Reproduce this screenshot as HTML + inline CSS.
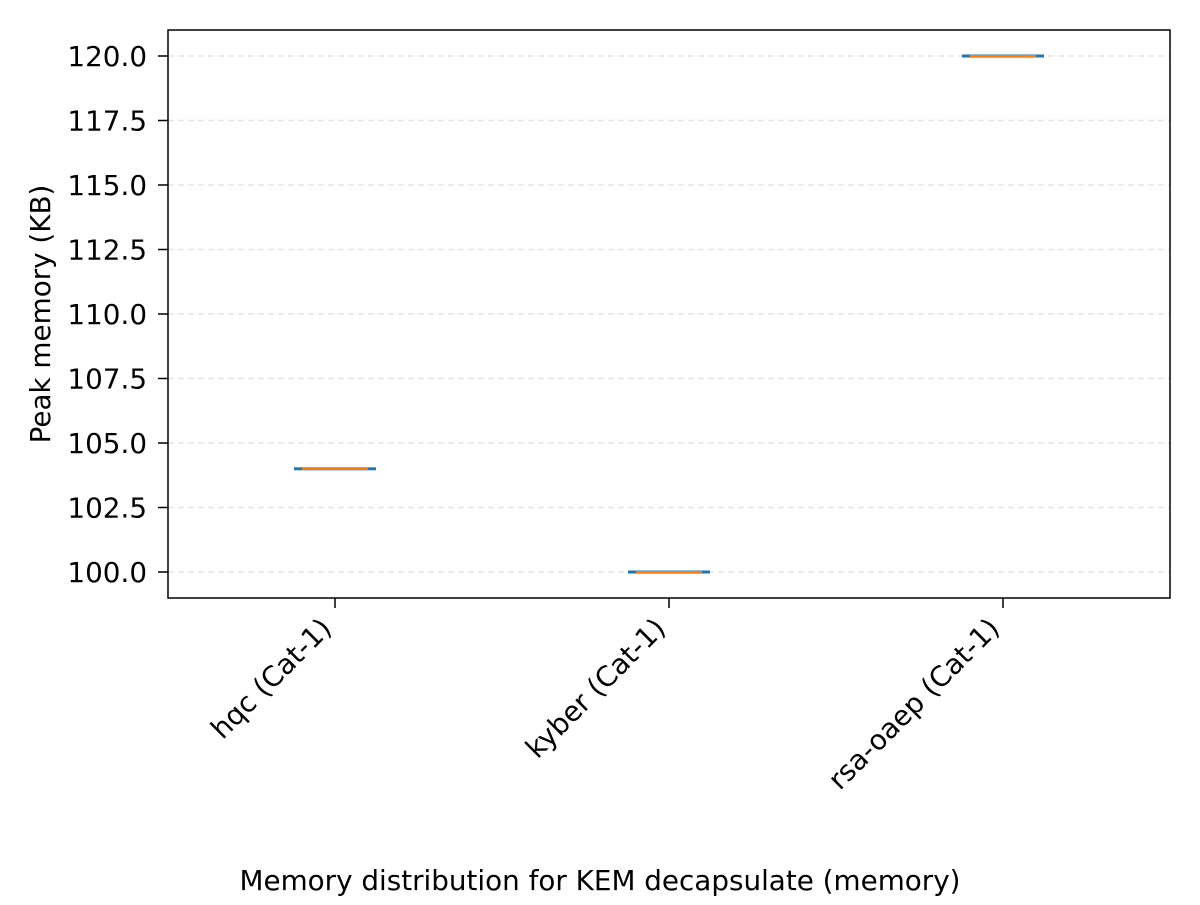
<!DOCTYPE html>
<html><head><meta charset="utf-8"><style>
body{margin:0;background:#fff}
svg text{font-family:"DejaVu Sans","Liberation Sans",sans-serif;fill:#000}
</style></head><body>
<svg id="chart" width="1200" height="900">
<rect width="1200" height="900" fill="#fff"/>
<g id="grid"></g><g id="marks"></g><g id="axes"></g>
<rect x="168" y="30" width="1002" height="568" fill="none" stroke="#000" stroke-width="1.5"/>
<text x="50" y="314" font-size="27.8" text-anchor="middle" transform="rotate(-90 50 314)">Peak memory (KB)</text>
<text x="600" y="890" font-size="27.8" text-anchor="middle">Memory distribution for KEM decapsulate (memory)</text>
</svg>
<script>
const categories=["hqc (Cat-1)","kyber (Cat-1)","rsa-oaep (Cat-1)"];
const medians=[104,100,120];
const q1=[104,100,120];
const q3=[104,100,120];
const yTicks=[100,102.5,105,107.5,110,112.5,115,117.5,120];
const NS="http://www.w3.org/2000/svg";
const L=168,R=1170,T=30,B=598;
function y(v){return 572-(v-100)*25.8;}
function x(i){return L+(i+0.5)*(R-L)/categories.length;}
function mk(t,a,p){const e=document.createElementNS(NS,t);for(const k in a)e.setAttribute(k,a[k]);p.appendChild(e);return e;}
const grid=document.getElementById('grid'),axes=document.getElementById('axes'),marks=document.getElementById('marks');
yTicks.forEach(v=>{
 const g=mk('line',{x1:L,x2:R,y1:y(v),y2:y(v),stroke:'#e6e6e6','stroke-width':1.5,'stroke-dasharray':'6,4'},grid);
 
 
 const t=mk('line',{x1:L-10,x2:L,y1:y(v),y2:y(v),stroke:'#000','stroke-width':1.5},axes);
 
 
 const l=mk('text',{x:L-21,y:y(v)+10,'font-size':27.8,'text-anchor':'end'},axes);
 l.textContent=v.toFixed(1);
 
 
});
categories.forEach((c,i)=>{
 const cx=x(i);
 const t=mk('line',{x1:cx,x2:cx,y1:B,y2:B+10,stroke:'#000','stroke-width':1.5},axes);
 
 
 const l=mk('text',{x:cx-2,y:B+32,'font-size':27.8,'text-anchor':'end',transform:`rotate(-45 ${cx-2} ${B+32})`},axes);
 l.textContent=c;
 
 
 const h=Math.max(0,y(q1[i])-y(q3[i]));
 const b=mk('rect',{x:cx-41,y:y(q3[i])-1.5,width:82,height:h+3,fill:'#1f77b4'},marks);
 
 
 const m=mk('line',{x1:cx-33,x2:cx+33,y1:y(medians[i]),y2:y(medians[i]),stroke:'#ff7f0e','stroke-width':2},marks);
 
 
});
</script>
</body></html>
